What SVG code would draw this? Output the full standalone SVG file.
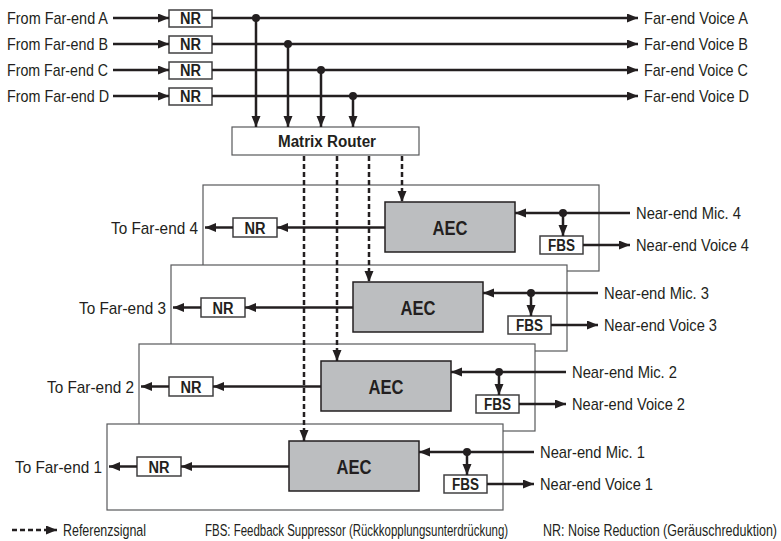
<svg xmlns="http://www.w3.org/2000/svg" width="781" height="541" viewBox="0 0 781 541">
<style>
text{font-family:"Liberation Sans Narrow","Liberation Sans",Arial,sans-serif;fill:#231f20}
.t{font-size:17px}
.b{font-size:16px;font-weight:bold;text-anchor:middle}
.aec{font-size:21px;font-weight:bold;text-anchor:middle}
.e{text-anchor:end}
.panel{fill:#fff;stroke:#58595b;stroke-width:1.2}
.box{fill:#fff;stroke:#414042;stroke-width:1.5}
.aecbox{fill:#bcbec0;stroke:#231f20;stroke-width:1.5}
.ln{fill:none;stroke:#231f20;stroke-width:2.5;marker-end:url(#ah)}
.ds{fill:none;stroke:#231f20;stroke-width:2.5;stroke-dasharray:5 3;marker-end:url(#ah)}
.dot{fill:#231f20}
</style>
<defs>
<marker id="ah" markerUnits="userSpaceOnUse" markerWidth="12" markerHeight="10" refX="11" refY="4.5" orient="auto">
<path d="M0,0 L11,4.5 L0,9 z" fill="#231f20"/>
</marker>
</defs>

<g id="panel4">
<rect class="panel" x="203" y="185" width="396" height="86"/>
<rect class="aecbox" x="385" y="202" width="130" height="50"/><text class="aec" x="450" y="235" textLength="35" lengthAdjust="spacingAndGlyphs">AEC</text>
<rect class="box" x="233" y="218" width="44" height="19"/><text class="b" x="255" y="233.5" textLength="21" lengthAdjust="spacingAndGlyphs">NR</text>
<rect class="box" x="540" y="236" width="43" height="18"/><text class="b" x="561.5" y="251" textLength="27" lengthAdjust="spacingAndGlyphs">FBS</text>
</g>
<g id="panel3">
<rect class="panel" x="171" y="265" width="396" height="86"/>
<rect class="aecbox" x="353" y="282" width="130" height="50"/><text class="aec" x="418" y="315" textLength="35" lengthAdjust="spacingAndGlyphs">AEC</text>
<rect class="box" x="201" y="298" width="44" height="19"/><text class="b" x="223" y="313.5" textLength="21" lengthAdjust="spacingAndGlyphs">NR</text>
<rect class="box" x="508" y="316" width="43" height="18"/><text class="b" x="529.5" y="331" textLength="27" lengthAdjust="spacingAndGlyphs">FBS</text>
</g>
<g id="panel2">
<rect class="panel" x="139" y="344" width="396" height="87"/>
<rect class="aecbox" x="321" y="361" width="130" height="50"/><text class="aec" x="386" y="394" textLength="35" lengthAdjust="spacingAndGlyphs">AEC</text>
<rect class="box" x="169" y="377" width="44" height="19"/><text class="b" x="191" y="392.5" textLength="21" lengthAdjust="spacingAndGlyphs">NR</text>
<rect class="box" x="476" y="395" width="43" height="18"/><text class="b" x="497.5" y="410" textLength="27" lengthAdjust="spacingAndGlyphs">FBS</text>
</g>
<g id="panel1">
<rect class="panel" x="107" y="424" width="396" height="86"/>
<rect class="aecbox" x="289" y="441" width="130" height="50"/><text class="aec" x="354" y="474" textLength="35" lengthAdjust="spacingAndGlyphs">AEC</text>
<rect class="box" x="137" y="457" width="44" height="19"/><text class="b" x="159" y="472.5" textLength="21" lengthAdjust="spacingAndGlyphs">NR</text>
<rect class="box" x="444" y="475" width="43" height="18"/><text class="b" x="465.5" y="490" textLength="27" lengthAdjust="spacingAndGlyphs">FBS</text>
</g>

<g id="nrA"><rect class="box" x="169" y="10" width="43" height="17"/><text class="b" x="190.5" y="24" textLength="21" lengthAdjust="spacingAndGlyphs">NR</text></g>
<g id="nrB"><rect class="box" x="169" y="36" width="43" height="17"/><text class="b" x="190.5" y="50" textLength="21" lengthAdjust="spacingAndGlyphs">NR</text></g>
<g id="nrC"><rect class="box" x="169" y="62" width="43" height="17"/><text class="b" x="190.5" y="76" textLength="21" lengthAdjust="spacingAndGlyphs">NR</text></g>
<g id="nrD"><rect class="box" x="169" y="88" width="43" height="17"/><text class="b" x="190.5" y="102" textLength="21" lengthAdjust="spacingAndGlyphs">NR</text></g>
<g id="router"><rect class="panel" x="232" y="127" width="187" height="28"/><text class="b" x="327" y="147" textLength="98" lengthAdjust="spacingAndGlyphs">Matrix Router</text></g>

<g id="connectors">
<path class="ln" d="M113,18 H169"/><path class="ln" d="M113,44 H169"/><path class="ln" d="M113,70 H169"/><path class="ln" d="M113,96 H169"/>
<path class="ln" d="M212,18 H638"/><path class="ln" d="M212,44 H638"/><path class="ln" d="M212,70 H638"/><path class="ln" d="M212,96 H638"/>
<path class="ln" d="M256,18 V127"/><path class="ln" d="M288,44 V127"/><path class="ln" d="M321,70 V127"/><path class="ln" d="M353,96 V127"/>
<circle class="dot" cx="256" cy="18" r="4"/><circle class="dot" cx="288" cy="44" r="4"/><circle class="dot" cx="321" cy="70" r="4"/><circle class="dot" cx="353" cy="96" r="4"/>

<path class="ln" d="M385,227.5 H277"/><path class="ln" d="M233,227.5 H205"/>
<path class="ln" d="M630,213 H515"/><path class="ln" d="M563,213 V236"/><path class="ln" d="M583,245 H630"/><circle class="dot" cx="563" cy="213" r="4"/>

<path class="ln" d="M353,307.5 H245"/><path class="ln" d="M201,307.5 H173"/>
<path class="ln" d="M598,293 H483"/><path class="ln" d="M531,293 V316"/><path class="ln" d="M551,325 H598"/><circle class="dot" cx="531" cy="293" r="4"/>

<path class="ln" d="M321,386.5 H213"/><path class="ln" d="M169,386.5 H141"/>
<path class="ln" d="M566,372 H451"/><path class="ln" d="M499,372 V395"/><path class="ln" d="M519,404 H566"/><circle class="dot" cx="499" cy="372" r="4"/>

<path class="ln" d="M289,466.5 H181"/><path class="ln" d="M137,466.5 H109"/>
<path class="ln" d="M534,452 H419"/><path class="ln" d="M467,452 V475"/><path class="ln" d="M487,484 H534"/><circle class="dot" cx="467" cy="452" r="4"/>

<path class="ds" d="M402,156 V202"/><path class="ds" d="M369,156 V282"/><path class="ds" d="M337,156 V361"/><path class="ds" d="M304,156 V441"/>
</g>

<g id="labels">
<text class="t" x="7" y="24" textLength="101" lengthAdjust="spacingAndGlyphs">From Far-end A</text>
<text class="t" x="7" y="50" textLength="101" lengthAdjust="spacingAndGlyphs">From Far-end B</text>
<text class="t" x="7" y="76" textLength="101" lengthAdjust="spacingAndGlyphs">From Far-end C</text>
<text class="t" x="7" y="102" textLength="102" lengthAdjust="spacingAndGlyphs">From Far-end D</text>
<text class="t" x="644" y="24" textLength="104" lengthAdjust="spacingAndGlyphs">Far-end Voice A</text>
<text class="t" x="644" y="50" textLength="104" lengthAdjust="spacingAndGlyphs">Far-end Voice B</text>
<text class="t" x="644" y="76" textLength="104" lengthAdjust="spacingAndGlyphs">Far-end Voice C</text>
<text class="t" x="644" y="102" textLength="105" lengthAdjust="spacingAndGlyphs">Far-end Voice D</text>

<text class="t e" x="198" y="233.5" textLength="87" lengthAdjust="spacingAndGlyphs">To Far-end 4</text>
<text class="t" x="636" y="219" textLength="105" lengthAdjust="spacingAndGlyphs">Near-end Mic. 4</text>
<text class="t" x="636" y="251" textLength="113" lengthAdjust="spacingAndGlyphs">Near-end Voice 4</text>

<text class="t e" x="166" y="313.5" textLength="87" lengthAdjust="spacingAndGlyphs">To Far-end 3</text>
<text class="t" x="604" y="299" textLength="105" lengthAdjust="spacingAndGlyphs">Near-end Mic. 3</text>
<text class="t" x="604" y="331" textLength="113" lengthAdjust="spacingAndGlyphs">Near-end Voice 3</text>

<text class="t e" x="134" y="392.5" textLength="87" lengthAdjust="spacingAndGlyphs">To Far-end 2</text>
<text class="t" x="572" y="378" textLength="105" lengthAdjust="spacingAndGlyphs">Near-end Mic. 2</text>
<text class="t" x="572" y="410" textLength="113" lengthAdjust="spacingAndGlyphs">Near-end Voice 2</text>

<text class="t e" x="102" y="472.5" textLength="87" lengthAdjust="spacingAndGlyphs">To Far-end 1</text>
<text class="t" x="540" y="458" textLength="105" lengthAdjust="spacingAndGlyphs">Near-end Mic. 1</text>
<text class="t" x="540" y="490" textLength="113" lengthAdjust="spacingAndGlyphs">Near-end Voice 1</text>
</g>

<g id="legend">
<path class="ds" d="M12,530 H57"/>
<text class="t" transform="translate(63,536) scale(0.8,1)" x="0" y="0" textLength="103.75" lengthAdjust="spacingAndGlyphs">Referenzsignal</text>
<text class="t" transform="translate(205,536) scale(0.72,1)" x="0" y="0" textLength="421" lengthAdjust="spacingAndGlyphs">FBS: Feedback Suppressor (Rückkopplungsunterdrückung)</text>
<text class="t" transform="translate(543,536) scale(0.72,1)" x="0" y="0" textLength="325" lengthAdjust="spacingAndGlyphs">NR: Noise Reduction (Geräuschreduktion)</text>
</g>
</svg>
